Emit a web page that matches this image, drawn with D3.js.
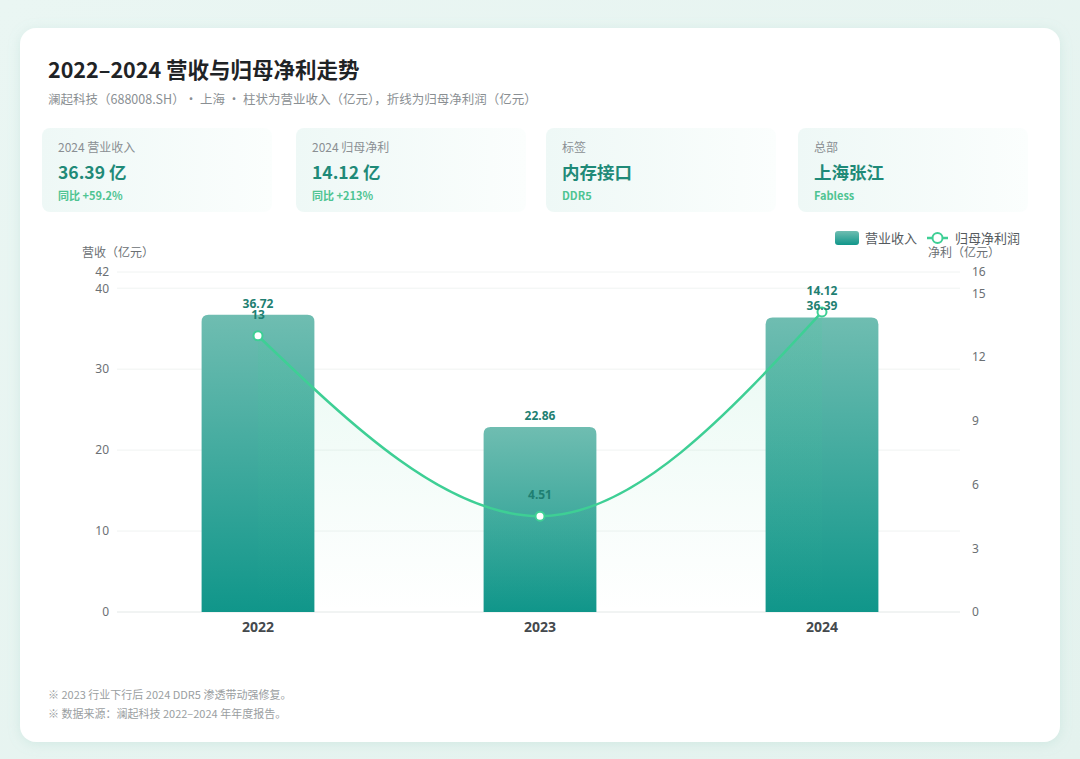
<!DOCTYPE html>
<html>
<head>
<meta charset="utf-8">
<script src="https://cdn.jsdelivr.net/npm/d3@7"></script>
<style>
  body { margin: 0; background: #eef7f5; }
  svg { display: block; font-family: "Noto Sans CJK SC", "Noto Sans", sans-serif; }
</style>
</head>
<body>
<div id="chart"></div>
<script>
// data
var years = ["2022", "2023", "2024"];
var revenue = [36.72, 22.86, 36.39];
var netProfit = [13, 4.51, 14.12];
var leftTicks = [0, 10, 20, 30, 40, 42];
var rightTicks = [0, 3, 6, 9, 12, 15, 16];

var kpiLabels = ["2024 营业收入", "2024 归母净利", "标签", "总部"];
var kpiValues = ["36.39 亿", "14.12 亿", "内存接口", "上海张江"];
var kpiNotes = ["同比 +59.2%", "同比 +213%", "DDR5", "Fabless"];

var notes = ["※ 2023 行业下行后 2024 DDR5 渗透带动强修复。",
             "※ 数据来源：澜起科技 2022–2024 年年度报告。"];

var svgWidth = 1080, svgHeight = 759;

var svg = d3.select("#chart").append("svg")
  .attr("width", svgWidth)
  .attr("height", svgHeight);

var defs = svg.append("defs");

// page background
var bg = defs.append("linearGradient").attr("id", "bg")
  .attr("x1", 0).attr("y1", 0).attr("x2", 1).attr("y2", 1);
bg.append("stop").attr("offset", "0%").attr("stop-color", "#eaf6f3");
bg.append("stop").attr("offset", "100%").attr("stop-color", "#e4f2ee");
svg.append("rect").attr("width", svgWidth).attr("height", svgHeight).attr("fill", "url(#bg)");

var shadow = defs.append("filter").attr("id", "shadow")
  .attr("x", "-5%").attr("y", "-5%").attr("width", "110%").attr("height", "110%");
shadow.append("feDropShadow").attr("dx", 0).attr("dy", 2).attr("stdDeviation", 6)
  .attr("flood-color", "#8fc9bc").attr("flood-opacity", 0.25);

svg.append("rect")
  .attr("x", 20).attr("y", 28).attr("width", 1040).attr("height", 714)
  .attr("rx", 16).attr("fill", "#fff").attr("filter", "url(#shadow)");

// title
svg.append("text").attr("x", 48).attr("y", 78)
  .attr("font-size", 21.5).attr("font-weight", 700).attr("fill", "#1f2326")
  .text("2022–2024 营收与归母净利走势");
svg.append("text").attr("x", 48).attr("y", 104)
  .attr("font-size", 12.5).attr("fill", "#8a8f93")
  .text("澜起科技（688008.SH）• 上海 • 柱状为营业收入（亿元），折线为归母净利润（亿元）");

// kpi cards
var kpiGrad = defs.append("linearGradient").attr("id", "kpi")
  .attr("x1", 0).attr("y1", 0).attr("x2", 1).attr("y2", 0);
kpiGrad.append("stop").attr("offset", "0%").attr("stop-color", "#eef8f6");
kpiGrad.append("stop").attr("offset", "100%").attr("stop-color", "#fbfefd");

var kpiX = [42, 296, 546, 798];
var kpi = svg.selectAll(".kpi").data(kpiLabels).enter().append("g")
  .attr("class", "kpi")
  .attr("transform", (d, i) => `translate(${kpiX[i]}, 128)`);
kpi.append("rect").attr("width", 230).attr("height", 84).attr("rx", 8).attr("fill", "url(#kpi)");
kpi.append("text").attr("x", 16).attr("y", 24).attr("font-size", 12).attr("fill", "#8a8f93")
  .text(d => d);
kpi.append("text").attr("x", 16).attr("y", 51).attr("font-size", 17.5).attr("font-weight", 700)
  .attr("fill", "#1f8a78").text((d, i) => kpiValues[i]);
kpi.append("text").attr("x", 16).attr("y", 72).attr("font-size", 11).attr("font-weight", 600)
  .attr("fill", "#4ec492").text((d, i) => kpiNotes[i]);

// chart area
var plotLeft = 117, plotRight = 963, plotTop = 272, plotBottom = 612;

var xScale = d3.scaleBand().domain(years).range([plotLeft, plotRight])
  .paddingInner(0.6).paddingOuter(0.3);
var yLeft = d3.scaleLinear().domain([0, 42]).range([plotBottom, plotTop]);
var yRight = d3.scaleLinear().domain([0, 16]).range([plotBottom, plotTop]);

// grid lines
svg.append("g").selectAll("line").data(leftTicks).enter().append("line")
  .attr("x1", plotLeft).attr("x2", plotRight - 3)
  .attr("y1", d => yLeft(d)).attr("y2", d => yLeft(d))
  .attr("stroke", d => d === 0 ? "#e3e8e7" : "#f0f3f2").attr("stroke-width", 1);

// axes
var axisL = svg.append("g").attr("transform", `translate(${plotLeft - 8}, 0)`)
  .call(d3.axisLeft(yLeft).tickValues(leftTicks).tickSize(0).tickPadding(0));
var axisR = svg.append("g").attr("transform", `translate(${plotRight + 9}, 0)`)
  .call(d3.axisRight(yRight).tickValues(rightTicks).tickSize(0).tickPadding(0));
[axisL, axisR].forEach(function (a) {
  a.select(".domain").remove();
  a.selectAll("text").attr("font-size", 12).attr("fill", "#6b7074")
    .attr("font-family", "'Noto Sans', sans-serif");
});

var axisX = svg.append("g").attr("transform", `translate(0, ${plotBottom})`)
  .call(d3.axisBottom(xScale).tickSize(0).tickPadding(10));
axisX.select(".domain").remove();
axisX.selectAll("text").attr("font-size", 14).attr("font-weight", 700).attr("fill", "#44494d")
  .attr("font-family", "'Noto Sans', sans-serif");

svg.append("text").attr("x", 82).attr("y", 257).attr("font-size", 12).attr("fill", "#6b7074")
  .text("营收（亿元）");
svg.append("text").attr("x", 928).attr("y", 257).attr("font-size", 12).attr("fill", "#6b7074")
  .text("净利（亿元）");

// bars
var barGrad = defs.append("linearGradient").attr("id", "bar")
  .attr("x1", 0).attr("y1", 0).attr("x2", 0).attr("y2", 1);
barGrad.append("stop").attr("offset", "0%").attr("stop-color", "#6fbdb1");
barGrad.append("stop").attr("offset", "100%").attr("stop-color", "#10968a");

function topRounded(x, y, w, h, r) {
  return `M${x},${y + h}V${y + r}Q${x},${y} ${x + r},${y}H${x + w - r}Q${x + w},${y} ${x + w},${y + r}V${y + h}Z`;
}

svg.append("g").selectAll("path").data(revenue).enter().append("path")
  .attr("d", (d, i) => topRounded(xScale(years[i]), yLeft(d), xScale.bandwidth(), plotBottom - yLeft(d), 7))
  .attr("fill", "url(#bar)");

// area under line
var areaGrad = defs.append("linearGradient").attr("id", "area")
  .attr("x1", 0).attr("y1", 0).attr("x2", 0).attr("y2", 1);
areaGrad.append("stop").attr("offset", "0%").attr("stop-color", "#3ecf95").attr("stop-opacity", 0.12);
areaGrad.append("stop").attr("offset", "100%").attr("stop-color", "#3ecf95").attr("stop-opacity", 0.0);

var cx = (d, i) => xScale(years[i]) + xScale.bandwidth() / 2;

var area = d3.area().x(cx).y0(plotBottom).y1(d => yRight(d)).curve(d3.curveMonotoneX);
svg.append("path").datum(netProfit).attr("d", area).attr("fill", "url(#area)");

var line = d3.line().x(cx).y(d => yRight(d)).curve(d3.curveMonotoneX);
svg.append("path").datum(netProfit).attr("d", line)
  .attr("fill", "none").attr("stroke", "#3ecf95").attr("stroke-width", 2.5);

svg.append("g").selectAll("circle").data(netProfit).enter().append("circle")
  .attr("cx", cx).attr("cy", d => yRight(d)).attr("r", 4.5)
  .attr("fill", "#fff").attr("stroke", "#3ecf95").attr("stroke-width", 2);

// value labels
svg.append("g").selectAll("text").data(revenue).enter().append("text")
  .attr("x", cx).attr("y", d => yLeft(d) - 7)
  .attr("text-anchor", "middle").attr("font-size", 12).attr("font-weight", 700)
  .attr("fill", "#1f7f72").attr("font-family", "'Noto Sans', sans-serif")
  .text(d => d.toFixed(2));

svg.append("g").selectAll("text").data(netProfit).enter().append("text")
  .attr("x", cx).attr("y", d => yRight(d) - 17)
  .attr("text-anchor", "middle").attr("font-size", 12).attr("font-weight", 700)
  .attr("fill", "#1f7f72").attr("font-family", "'Noto Sans', sans-serif")
  .text(d => d);

// legend
var legend = svg.append("g").attr("transform", "translate(835, 231)");
legend.append("rect").attr("width", 24).attr("height", 14).attr("rx", 3).attr("fill", "url(#bar)");
legend.append("text").attr("x", 30).attr("y", 12).attr("font-size", 13).attr("fill", "#555a5e")
  .text("营业收入");
legend.append("line").attr("x1", 92).attr("x2", 113).attr("y1", 7).attr("y2", 7)
  .attr("stroke", "#3ecf95").attr("stroke-width", 2.5);
legend.append("circle").attr("cx", 102.5).attr("cy", 7).attr("r", 5)
  .attr("fill", "#fff").attr("stroke", "#3ecf95").attr("stroke-width", 2);
legend.append("text").attr("x", 120).attr("y", 12).attr("font-size", 13).attr("fill", "#555a5e")
  .text("归母净利润");

// footnotes
svg.append("g").selectAll("text").data(notes).enter().append("text")
  .attr("x", 48).attr("y", (d, i) => 699 + i * 19)
  .attr("font-size", 11).attr("fill", "#9a9ea1")
  .text(d => d);
</script>
</body>
</html>
